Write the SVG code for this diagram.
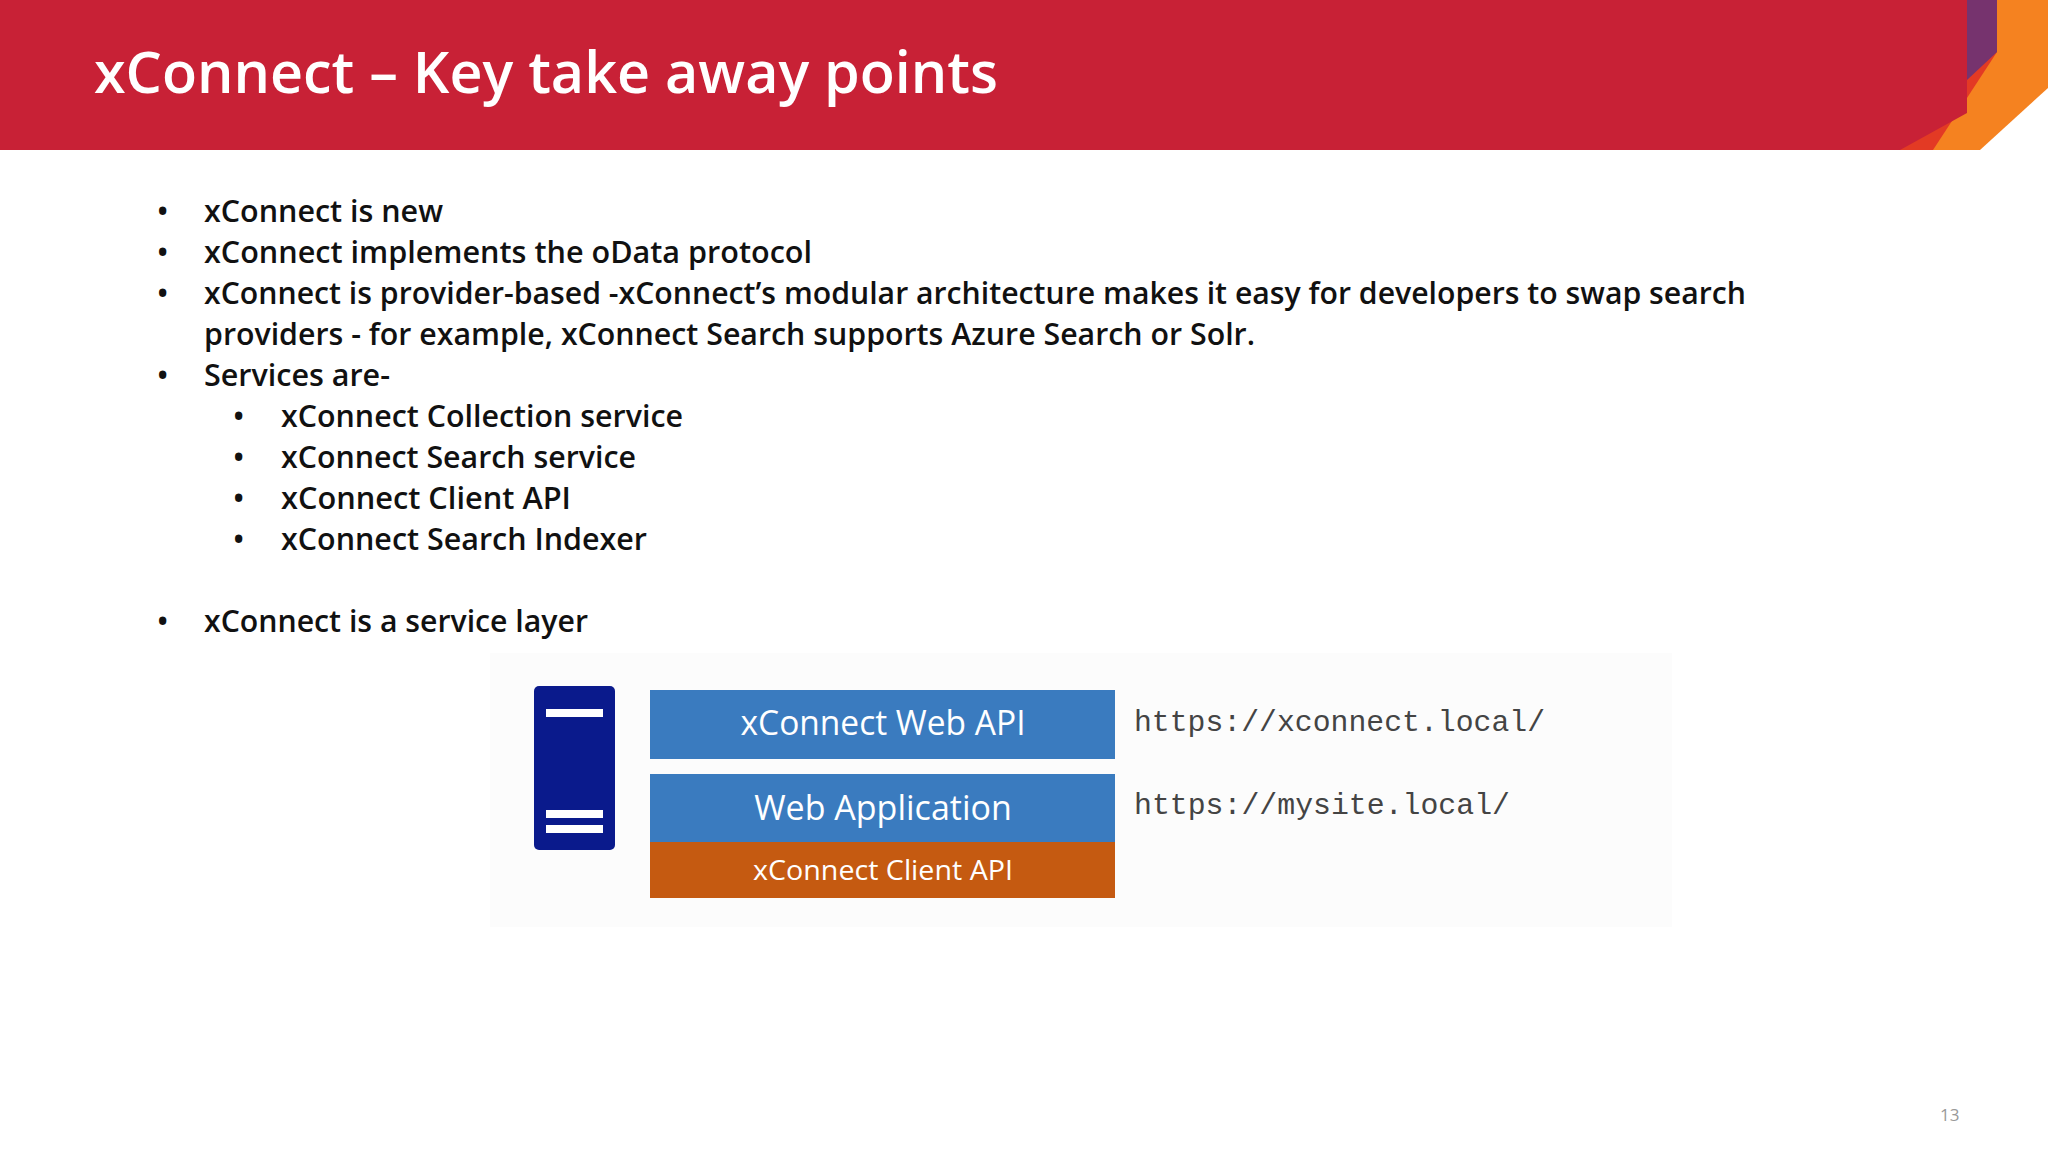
<svg xmlns="http://www.w3.org/2000/svg" width="2048" height="1152" viewBox="0 0 2048 1152">
<style>
.b{font-family:"Open Sans","Liberation Sans",sans-serif;font-size:30px;font-weight:600;fill:#111}
.w{font-family:"Open Sans","Liberation Sans",sans-serif;fill:#fff;text-anchor:middle}
.m{font-family:"Liberation Mono","DejaVu Sans Mono",monospace;font-size:29px;fill:#444}
</style>
<rect width="2048" height="1152" fill="#fff"/>
<g id="header">
<polygon points="1900,0 2048,0 2048,88 1980,150 1900,150" fill="#f58220"/>
<polygon points="1960,0 1997,0 1997,52 1933,150 1880,150" fill="#e33a24"/>
<polygon points="0,0 1967,0 1967,113 1900,150 0,150" fill="#c82136"/>
<polygon points="1967,0 1997,0 1997,52 1967,80" fill="#76336e"/>
<text x="94" y="93" font-family="'Open Sans','Liberation Sans',sans-serif" font-size="58" font-weight="600" fill="#fff" textLength="904" lengthAdjust="spacingAndGlyphs">xConnect – Key take away points</text>
</g>
<g id="bullets" class="b">
<text x="157" y="222">•</text><text x="204" y="222" textLength="239" lengthAdjust="spacingAndGlyphs">xConnect is new</text>
<text x="157" y="263">•</text><text x="204" y="263" textLength="608" lengthAdjust="spacingAndGlyphs">xConnect implements the oData protocol</text>
<text x="157" y="304">•</text><text x="204" y="304" textLength="1542" lengthAdjust="spacingAndGlyphs">xConnect is provider-based -xConnect’s modular architecture makes it easy for developers to swap search</text>
<text x="204" y="345" textLength="1051" lengthAdjust="spacingAndGlyphs">providers - for example, xConnect Search supports Azure Search or Solr.</text>
<text x="157" y="386">•</text><text x="204" y="386" textLength="186" lengthAdjust="spacingAndGlyphs">Services are-</text>
<text x="233" y="427">•</text><text x="281" y="427" textLength="402" lengthAdjust="spacingAndGlyphs">xConnect Collection service</text>
<text x="233" y="468">•</text><text x="281" y="468" textLength="355" lengthAdjust="spacingAndGlyphs">xConnect Search service</text>
<text x="233" y="509">•</text><text x="281" y="509" textLength="290" lengthAdjust="spacingAndGlyphs">xConnect Client API</text>
<text x="233" y="550">•</text><text x="281" y="550" textLength="366" lengthAdjust="spacingAndGlyphs">xConnect Search Indexer</text>
<text x="157" y="632">•</text><text x="204" y="632" textLength="384" lengthAdjust="spacingAndGlyphs">xConnect is a service layer</text>
</g>
<rect x="490" y="653" width="1182" height="274" fill="#fcfcfc"/>
<g id="server">
<rect x="534" y="686" width="81" height="164" rx="5" fill="#0a1a8c"/>
<rect x="546" y="709" width="57" height="8" fill="#fff"/>
<rect x="546" y="810" width="57" height="8" fill="#fff"/>
<rect x="546" y="825" width="57" height="8" fill="#fff"/>
</g>
<g id="webapi">
<rect x="650" y="690" width="465" height="69" fill="#3a7bbf"/>
<text class="w" x="883" y="735" font-size="34" textLength="285" lengthAdjust="spacingAndGlyphs">xConnect Web API</text>
</g>
<g id="webapp">
<rect x="650" y="774" width="465" height="68" fill="#3a7bbf"/>
<text class="w" x="883" y="820" font-size="34">Web Application</text>
</g>
<g id="clientapi">
<rect x="650" y="842" width="465" height="56" fill="#c55a11"/>
<text class="w" x="883" y="880" font-size="28" textLength="260" lengthAdjust="spacingAndGlyphs">xConnect Client API</text>
</g>
<g id="urls">
<text class="m" x="1134" y="731" textLength="411" lengthAdjust="spacingAndGlyphs">https://xconnect.local/</text>
<text class="m" x="1134" y="814" textLength="376" lengthAdjust="spacingAndGlyphs">https://mysite.local/</text>
</g>
<g id="connectors"/>
<text x="1940" y="1121" font-family="'Open Sans','Liberation Sans',sans-serif" font-size="17" fill="#999">13</text>
</svg>
